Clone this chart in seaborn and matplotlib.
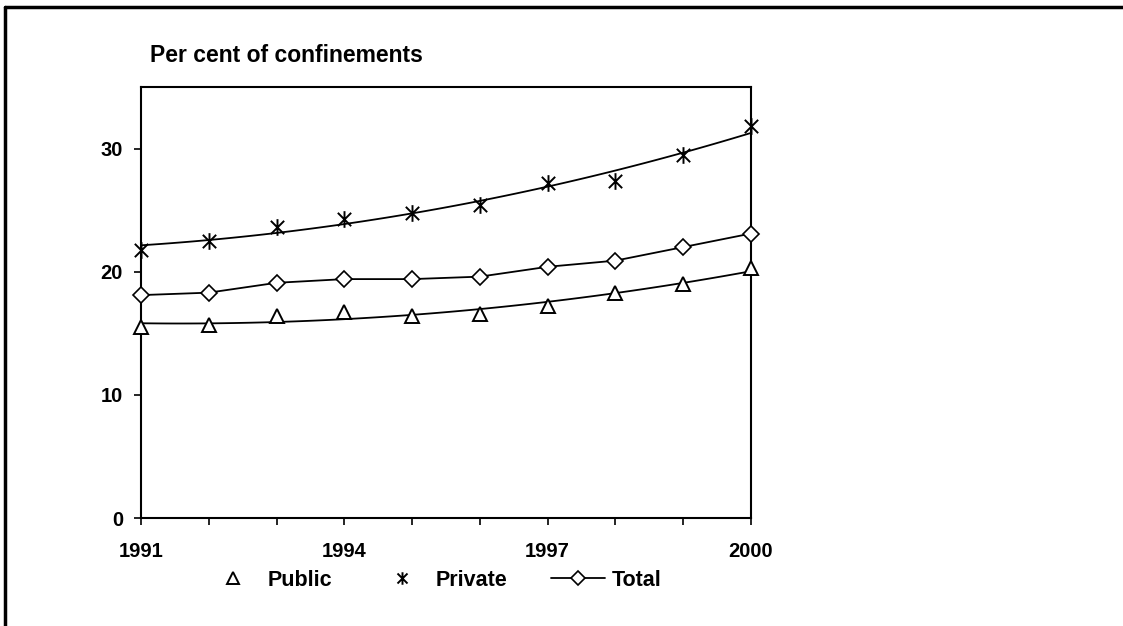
import numpy as np
import pandas as pd
import matplotlib
matplotlib.use("Agg")
import matplotlib.pyplot as plt
from matplotlib.path import Path
from matplotlib.lines import Line2D
import seaborn as sns

years = [1991, 1992, 1993, 1994, 1995, 1996, 1997, 1998, 1999, 2000]
public = [15.5, 15.7, 16.4, 16.7, 16.4, 16.6, 17.2, 18.3, 19.0, 20.3]
private = [21.8, 22.5, 23.6, 24.3, 24.8, 25.4, 27.2, 27.4, 29.5, 31.8]
total = [18.1, 18.3, 19.1, 19.4, 19.4, 19.6, 20.4, 20.9, 22.0, 23.1]
x_labels = ["1991", "1994", "1997", "2000"]
y_ticks = [0, 10, 20, 30]
title = "Per cent of confinements"

df = pd.DataFrame({"year": years, "Public": public, "Private": private, "Total": total})

sns.set_theme(style="white")
plt.rcParams["font.family"] = ["Liberation Sans", "DejaVu Sans"]
plt.rcParams["font.weight"] = "bold"
plt.rcParams["text.color"] = "black"
plt.rcParams["axes.labelcolor"] = "black"
plt.rcParams["xtick.color"] = "black"
plt.rcParams["ytick.color"] = "black"

# asterisk marker: X plus vertical bar
star = Path([(-1, -1), (1, 1), (-1, 1), (1, -1), (0, -1.25), (0, 1.25)],
            [Path.MOVETO, Path.LINETO, Path.MOVETO, Path.LINETO, Path.MOVETO, Path.LINETO])

fig = plt.figure(figsize=(11.23, 6.26), dpi=100)
ax = fig.add_axes([141 / 1123, 1 - 518 / 626, (751 - 141) / 1123, (518 - 87) / 626])

lw = 1.3
# trend lines
sns.regplot(data=df, x="year", y="Public", order=2, ci=None, scatter=False, truncate=True,
            line_kws=dict(color="black", lw=lw), ax=ax)
sns.regplot(data=df, x="year", y="Private", order=2, ci=None, scatter=False, truncate=True,
            line_kws=dict(color="black", lw=lw), ax=ax)
# total line
sns.lineplot(data=df, x="year", y="Total", color="black", lw=lw, marker="D", markersize=8.5,
             markerfacecolor="white", markeredgecolor="black", markeredgewidth=1.2, ax=ax,
             clip_on=False, zorder=5)
# markers
ax.plot(df["year"], df["Public"], ls="none", marker="^", ms=10, mfc="white", mec="black", mew=1.4,
        clip_on=False, zorder=6)
ax.plot(df["year"], df["Private"], ls="none", marker=star, ms=12, mfc="none", mec="black", mew=1.4,
        clip_on=False, zorder=6)

ax.set_xlim(1991, 2000)
ax.set_ylim(0, 35)
ax.set_xticks(years)
ax.set_xticklabels([str(y) if str(y) in x_labels else "" for y in years])
ax.set_yticks(y_ticks)
ax.set_xlabel("")
ax.set_ylabel("")
for s in ax.spines.values():
    s.set_visible(True)
    s.set_color("black")
    s.set_linewidth(1.5)
ax.tick_params(axis="both", which="major", direction="out", length=5, width=1.2, color="black",
               labelsize=14.5, labelcolor="black", bottom=True, left=True)
ax.tick_params(axis="x", pad=12.5)
ax.tick_params(axis="y", pad=8)
for lab in ax.get_xticklabels() + ax.get_yticklabels():
    lab.set_fontweight("bold")

fig.text(150 / 1123, 1 - 56 / 626, title, fontsize=16.5, fontweight="bold", va="center", ha="left",
         color="black")

handles = [
    Line2D([], [], ls="none", marker="^", ms=8.5, mfc="white", mec="black", mew=1.4),
    Line2D([], [], ls="none", marker=star, ms=9, mfc="none", mec="black", mew=1.4),
    Line2D([], [], color="black", lw=lw, marker="D", ms=7.5, mfc="white", mec="black", mew=1.2),
]
leg = fig.legend(handles, ["Public", "Private", "Total"], loc="center", ncol=3,
                 bbox_to_anchor=(434 / 1123, 1 - 580 / 626), frameon=False,
                 prop=dict(size=15.5, weight="bold"), handlelength=2.5, handletextpad=0.33,
                 columnspacing=2.0, borderpad=0)
for t in leg.get_texts():
    t.set_color("black")

# figure border (top and left)
fig.add_artist(Line2D([5 / 1123, 1], [1 - 7 / 626, 1 - 7 / 626], color="black", lw=2.5,
                      transform=fig.transFigure))
fig.add_artist(Line2D([5 / 1123, 5 / 1123], [0, 1 - 7 / 626], color="black", lw=2.5,
                      transform=fig.transFigure))

fig.savefig("out.png", dpi=100, facecolor="white")
